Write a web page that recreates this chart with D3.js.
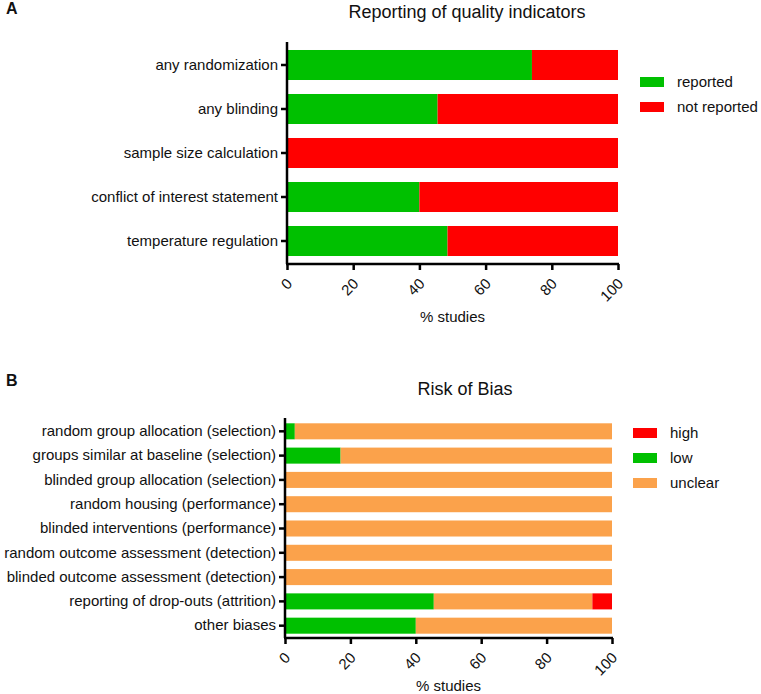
<!DOCTYPE html>
<html>
<head>
<meta charset="utf-8">
<script src="https://cdn.jsdelivr.net/npm/d3@7"></script>
<style>
  body { margin: 0; background: #fff; }
  svg text { font-family: 'Liberation Sans', Arial, sans-serif; fill: #111; }
</style>
</head>
<body>
<svg id="chart" width="761" height="694"></svg>
<script>
// panel A data
const qualityItems = ['any randomization', 'any blinding', 'sample size calculation', 'conflict of interest statement', 'temperature regulation']
const qualityReported = [74, 45.5, 0, 40, 48.5]
const qualityNotReported = [26, 54.5, 100, 60, 51.5]
const qualityKeys = ['reported', 'not reported']

// panel B data
const biasItems = ['random group allocation (selection)', 'groups similar at baseline (selection)', 'blinded group allocation (selection)',
    'random housing (performance)', 'blinded interventions (performance)', 'random outcome assessment (detection)',
    'blinded outcome assessment (detection)', 'reporting of drop-outs (attrition)', 'other biases']
const biasLow = [3, 17, 0, 0, 0, 0, 0, 45.5, 40]
const biasUnclear = [97, 83, 100, 100, 100, 100, 100, 48.5, 60]
const biasHigh = [0, 0, 0, 0, 0, 0, 0, 6, 0]
const biasLegend = ['high', 'low', 'unclear']

const xTicks = [0, 20, 40, 60, 80, 100]

const GREEN = '#00c000'
const RED = '#ff0000'
const ORANGE = '#fba24b'

const svg = d3.select('#chart')

function drawPanel(opts) {
    const g = svg.append('g')

    const x = d3.scaleLinear().domain([0, 100]).range([opts.left, opts.right])
    const y = d3.scaleBand().domain(opts.items)
        .range([opts.top, opts.bottom])
        .paddingInner(opts.pad).paddingOuter(opts.outer)

    // stacked bars
    const rows = opts.items.map((name, i) => {
        const row = { name: name }
        opts.keys.forEach((k, j) => { row[k] = opts.series[j][i] })
        return row
    })
    const stacked = d3.stack().keys(opts.keys)(rows)

    g.selectAll('g.layer')
        .data(stacked)
        .enter().append('g')
        .attr('class', 'layer')
        .attr('fill', (d, i) => opts.colors[i])
        .selectAll('rect')
        .data(d => d)
        .enter().append('rect')
        .attr('x', d => x(d[0]))
        .attr('width', d => x(d[1]) - x(d[0]))
        .attr('y', d => y(d.data.name))
        .attr('height', y.bandwidth())

    // y axis
    const yAxis = g.append('g')
        .attr('transform', 'translate(' + opts.left + ',0)')
        .call(d3.axisLeft(y).tickSize(6).tickPadding(3))
    yAxis.select('.domain').attr('d', 'M0,' + (opts.top - 1) + 'V' + opts.axisY).attr('stroke-width', 2.5)
    yAxis.selectAll('.tick line').attr('stroke-width', 2.5)
    yAxis.selectAll('text').attr('font-size', opts.labelSize)

    // x axis
    const xAxis = g.append('g')
        .attr('transform', 'translate(0,' + opts.axisY + ')')
        .call(d3.axisBottom(x).tickValues(xTicks).tickSize(6).tickFormat(d3.format('d')))
    xAxis.select('.domain').attr('d', 'M' + (opts.left - 1) + ',0H' + (opts.right + 1)).attr('stroke-width', 2.5)
    xAxis.selectAll('.tick line').attr('stroke-width', 2.5)
    xAxis.selectAll('text')
        .attr('font-size', 15)
        .attr('text-anchor', 'end')
        .attr('x', 0).attr('y', 0).attr('dy', '0.35em')
        .attr('transform', 'translate(2,17) rotate(-45)')

    g.append('text')
        .attr('x', (opts.left + opts.right) / 2)
        .attr('y', opts.axisY + opts.xLabelDy)
        .attr('text-anchor', 'middle')
        .attr('font-size', 15)
        .text('% studies')

    // title and panel letter
    g.append('text')
        .attr('x', opts.titleX)
        .attr('y', opts.titleY)
        .attr('text-anchor', 'middle')
        .attr('font-size', 18)
        .text(opts.title)

    g.append('text')
        .attr('x', 6)
        .attr('y', opts.letterY)
        .attr('font-size', 16)
        .attr('font-weight', 'bold')
        .text(opts.letter)

    // legend
    const leg = g.selectAll('g.legend')
        .data(opts.legend)
        .enter().append('g')
        .attr('class', 'legend')
        .attr('transform', (d, i) => 'translate(' + opts.legendX + ',' + (opts.legendY + i * 25) + ')')
    leg.append('rect')
        .attr('x', 0).attr('y', -5)
        .attr('width', 24).attr('height', 10)
        .attr('fill', d => opts.legendColors[d])
    leg.append('text')
        .attr('x', 37)
        .attr('dy', '0.35em')
        .attr('font-size', 15)
        .text(d => d)
}

drawPanel({
    items: qualityItems,
    keys: qualityKeys,
    series: [qualityReported, qualityNotReported],
    colors: [GREEN, RED],
    left: 287, right: 618,
    top: 43, bottom: 263, axisY: 264,
    pad: 0.318, outer: 0.159,
    labelSize: 15,
    xLabelDy: 58,
    title: 'Reporting of quality indicators', titleX: 467, titleY: 18,
    letter: 'A', letterY: 14,
    legend: qualityKeys,
    legendColors: { 'reported': GREEN, 'not reported': RED },
    legendX: 640, legendY: 82
})

drawPanel({
    items: biasItems,
    keys: ['low', 'unclear', 'high'],
    series: [biasLow, biasUnclear, biasHigh],
    colors: [GREEN, ORANGE, RED],
    left: 285, right: 612,
    top: 419, bottom: 638, axisY: 638,
    pad: 0.34, outer: 0.177,
    labelSize: 15,
    xLabelDy: 53,
    title: 'Risk of Bias', titleX: 465, titleY: 395,
    letter: 'B', letterY: 386,
    legend: biasLegend,
    legendColors: { high: RED, low: GREEN, unclear: ORANGE },
    legendX: 633, legendY: 433
})
</script>
</body>
</html>
